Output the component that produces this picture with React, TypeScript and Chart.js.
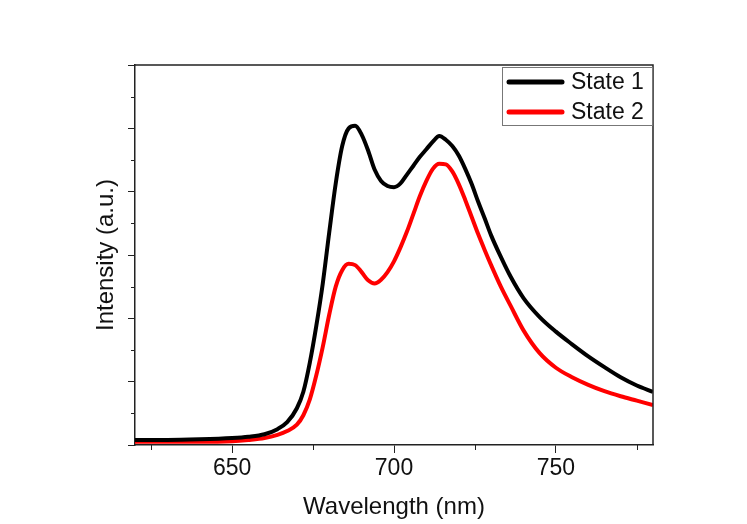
import React, { useEffect, useRef } from "react";
import { Chart, registerables } from "chart.js";

Chart.register(...registerables);

const wavelengths = [
  620, 630, 640, 650, 655, 660, 664, 667, 670, 672, 674, 676, 678, 680, 682, 684, 686, 688, 690,
  692, 694, 696, 698, 700, 702, 704, 706, 708, 710, 712, 714, 716, 718, 720, 722, 724, 726, 728,
  730, 733, 736, 740, 745, 750, 755, 760, 765, 770, 775, 780,
];

const state1 = [
  0.08, 0.08, 0.09, 0.11, 0.13, 0.17, 0.25, 0.36, 0.58, 0.84, 1.3, 1.88, 2.55, 3.36, 4.13, 4.72,
  5.0, 5.04, 4.9, 4.65, 4.35, 4.17, 4.09, 4.07, 4.13, 4.27, 4.41, 4.55, 4.67, 4.79, 4.88, 4.82,
  4.72, 4.57, 4.36, 4.12, 3.84, 3.58, 3.31, 2.97, 2.66, 2.32, 2.02, 1.79, 1.59, 1.4, 1.23, 1.07,
  0.94, 0.84,
];

const state2 = [
  0.05, 0.05, 0.05, 0.06, 0.08, 0.11, 0.16, 0.22, 0.32, 0.47, 0.72, 1.1, 1.55, 2.06, 2.5, 2.76,
  2.86, 2.84, 2.73, 2.6, 2.55, 2.61, 2.73, 2.9, 3.12, 3.37, 3.65, 3.93, 4.17, 4.36, 4.44, 4.43,
  4.32, 4.12, 3.87, 3.6, 3.33, 3.08, 2.84, 2.5, 2.2, 1.81, 1.45, 1.22, 1.07, 0.95, 0.85, 0.77,
  0.7, 0.63,
];

const seriesLabels = ["State 1", "State 2"];
const seriesColors = ["#000000", "#ff0000"];

const xMinorTicks = [625, 675, 725, 775];
const yMinorTicks = [0.5, 1.5, 2.5, 3.5, 4.5, 5.5];

const FONT = "Arial, 'Liberation Sans', sans-serif";

const framePlugin = {
  id: "frameAndMinor",
  afterDraw(chart: any) {
    const ctx = chart.ctx;
    const { left, right, top, bottom } = chart.chartArea;
    const xs = chart.scales.x;
    const ys = chart.scales.y;
    ctx.save();
    // top & right frame
    ctx.strokeStyle = "#222";
    ctx.lineWidth = 1.5;
    ctx.beginPath();
    ctx.moveTo(left, top);
    ctx.lineTo(right, top);
    ctx.lineTo(right, bottom);
    ctx.stroke();
    // minor ticks
    ctx.lineWidth = 1;
    ctx.beginPath();
    xMinorTicks.forEach((v) => {
      const px = Math.round(xs.getPixelForValue(v)) + 0.5;
      ctx.moveTo(px, bottom);
      ctx.lineTo(px, bottom + 5);
    });
    yMinorTicks.forEach((v) => {
      const py = Math.round(ys.getPixelForValue(v)) + 0.5;
      ctx.moveTo(left, py);
      ctx.lineTo(left - 4, py);
    });
    ctx.stroke();

    // legend
    const w = 151;
    const h = 59;
    const x0 = right - w;
    const y0 = top + 2;
    ctx.fillStyle = "#ffffff";
    ctx.fillRect(x0, y0, w, h);
    ctx.strokeStyle = "#777";
    ctx.lineWidth = 1;
    ctx.strokeRect(x0 + 0.5, y0 + 0.5, w - 1, h - 1);
    chart.data.datasets.forEach((ds: any, i: number) => {
      const yy = y0 + 15 + i * 30;
      ctx.strokeStyle = ds.borderColor;
      ctx.lineWidth = 5;
      ctx.lineCap = "round";
      ctx.beginPath();
      ctx.moveTo(x0 + 7, yy);
      ctx.lineTo(x0 + 60, yy);
      ctx.stroke();
      ctx.fillStyle = "#111";
      ctx.font = `23px ${FONT}`;
      ctx.textBaseline = "middle";
      ctx.textAlign = "left";
      ctx.fillText(ds.label, x0 + 69, yy + 1);
    });
    ctx.restore();
  },
};

export default function App() {
  const canvasRef = useRef<HTMLCanvasElement | null>(null);

  useEffect(() => {
    if (!canvasRef.current) return;
    const chart = new Chart(canvasRef.current, {
      type: "line",
      data: {
        datasets: [state1, state2].map((vals, i) => ({
          label: seriesLabels[i],
          data: wavelengths.map((w, j) => ({ x: w, y: vals[j] })),
          borderColor: seriesColors[i],
          backgroundColor: seriesColors[i],
          borderWidth: 4,
          pointRadius: 0,
          cubicInterpolationMode: "monotone" as const,
          fill: false,
        })),
      },
      options: {
        responsive: false,
        animation: false,
        layout: { padding: { top: 65, right: 94, left: 0, bottom: 0 } },
        plugins: {
          legend: { display: false },
          tooltip: { enabled: false },
        },
        scales: {
          x: {
            type: "linear",
            min: 620,
            max: 780,
            afterFit: (s: any) => {
              s.height = 79;
            },
            ticks: {
              stepSize: 50,
              includeBounds: false,
              color: "#111",
              font: { family: FONT, size: 23 },
              padding: 2,
              maxRotation: 0,
            },
            grid: {
              drawOnChartArea: false,
              drawTicks: true,
              tickLength: 8,
              color: "#222",
            },
            border: { color: "#222", width: 1.5 },
            title: {
              display: true,
              text: "Wavelength (nm)",
              color: "#111",
              font: { family: FONT, size: 24 },
              padding: { top: 0, bottom: 2 },
            },
          },
          y: {
            type: "linear",
            min: 0,
            max: 6,
            afterFit: (s: any) => {
              s.width = 135;
            },
            ticks: { display: false, stepSize: 1 },
            grid: {
              drawOnChartArea: false,
              drawTicks: true,
              tickLength: 7,
              color: "#222",
            },
            border: { color: "#222", width: 1.5 },
            title: {
              display: true,
              text: "Intensity (a.u.)",
              color: "#111",
              font: { family: FONT, size: 24 },
              padding: { top: 92, bottom: 0 },
            },
          },
        },
      },
      plugins: [framePlugin],
    });
    return () => chart.destroy();
  }, []);

  return (
    <div style={{ position: "fixed", left: 0, top: 0, width: 747, height: 524, background: "#fff" }}>
      <canvas ref={canvasRef} width={747} height={524} />
    </div>
  );
}
